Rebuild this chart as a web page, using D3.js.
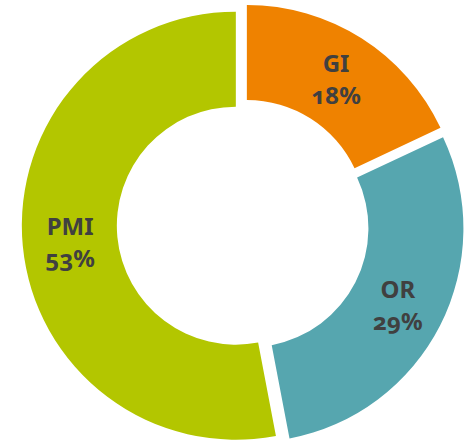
<!DOCTYPE html>
<html lang="en">
<head>
    <meta charset="UTF-8">
    <title>Donut</title>
    <script src="https://d3js.org/d3.v7.min.js"></script>
    <style>
        body { margin: 0; background: #fff; }
        .lbl text {
            font-family: "Noto Sans", sans-serif;
            font-weight: bold;
            font-size: 24px;
            fill: #404040;
            font-variant-numeric: oldstyle-nums;
        }
    </style>
</head>
<body>
    <script>
        // slices, clockwise from 12 o'clock
        var categories = ['GI', 'OR', 'PMI'];
        var values = [18, 29, 53];
        var colors = ['#EF8200', '#56A6AF', '#B3C600'];

        var width = 467;
        var height = 443;
        var cx = 243, cy = 225;
        var outer = 214, inner = 119;
        var explode = 7.2;

        var svg = d3.select('body')
            .append('svg')
            .attr('width', width)
            .attr('height', height);

        var pie = d3.pie()
            .sort(null)
            .value(function (d) { return d; });

        var arc = d3.arc()
            .innerRadius(inner)
            .outerRadius(outer);

        var arcs = pie(values);

        var g = svg.append('g')
            .attr('transform', 'translate(' + cx + ',' + cy + ')');

        var slice = g.selectAll('.slice')
            .data(arcs)
            .enter()
            .append('g')
            .attr('class', 'slice')
            .attr('transform', function (d) {
                var a = (d.startAngle + d.endAngle) / 2;
                return 'translate(' + (Math.sin(a) * explode) + ',' + (-Math.cos(a) * explode) + ')';
            });

        slice.append('path')
            .attr('d', arc)
            .attr('fill', function (d, i) { return colors[i]; });

        var lbl = slice.append('g')
            .attr('class', 'lbl')
            .attr('transform', function (d) {
                var c = arc.centroid(d);
                return 'translate(' + c[0] + ',' + c[1] + ')';
            });

        lbl.append('text')
            .attr('text-anchor', 'middle')
            .attr('y', -6)
            .text(function (d, i) { return categories[i]; });

        lbl.append('text')
            .attr('text-anchor', 'middle')
            .attr('y', 26)
            .text(function (d) { return d.value + '%'; });
    </script>
</body>
</html>
